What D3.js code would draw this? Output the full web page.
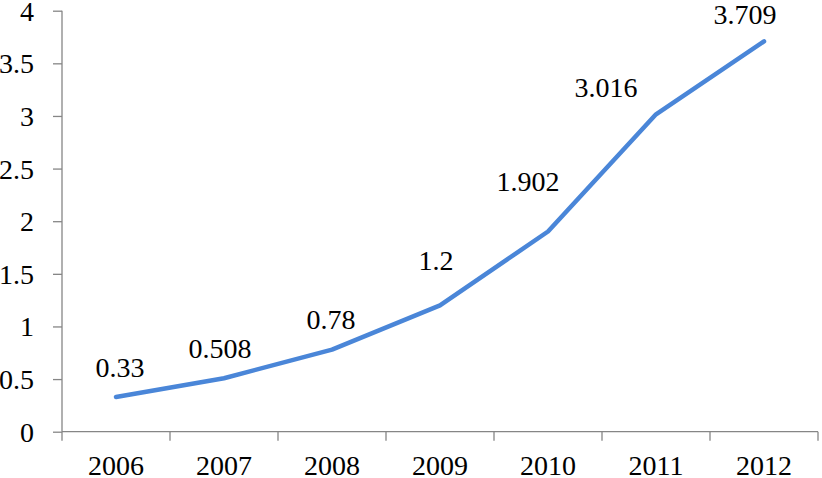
<!DOCTYPE html>
<html><head><meta charset="utf-8">
<script src="https://cdn.jsdelivr.net/npm/d3@7"></script>
<style>body{margin:0;background:#fff}svg{display:block}</style>
</head><body>
<script>
const years = ["2006","2007","2008","2009","2010","2011","2012"];
const values = [0.33, 0.508, 0.78, 1.2, 1.902, 3.016, 3.709];
const labels = ["0.33","0.508","0.78","1.2","1.902","3.016","3.709"];
const yTicks = [0, 0.5, 1, 1.5, 2, 2.5, 3, 3.5, 4];
const yTickLabels = ["0","0.5","1","1.5","2","2.5","3","3.5","4"];
// label offsets (dx, dy) relative to the point
const labelDx = [4, -4, -1, -4, -20, -50, -19];
const labelDy = [-20, -20, -21, -35, -41, -17, -17];

const W = 822, H = 478;
const svg = d3.select("body").append("svg").attr("width", W).attr("height", H);
const font = "'Liberation Serif', serif";
const axisColor = "#868686";

const x = d3.scaleBand().domain(years).range([62, 818]);
const y = d3.scaleLinear().domain([0, 4]).range([431.7, 10.7]);

// y axis
const yAxis = d3.axisLeft(y).tickValues(yTicks).tickSize(9).tickPadding(19)
  .tickFormat((d, i) => yTickLabels[i]);
const gy = svg.append("g").attr("transform", "translate(62,0)").call(yAxis);
gy.select(".domain").attr("stroke", axisColor).attr("stroke-width", 1.3).attr("d", `M0,${y(4)}V${y(0)}`);
gy.selectAll(".tick line").attr("stroke", axisColor).attr("stroke-width", 1.3);
gy.selectAll(".tick text").attr("font-family", font).attr("font-size", 28).attr("fill", "#000")
  .attr("dy", "0.34em");

// x axis with ticks at category boundaries
const gx = svg.append("g").attr("transform", `translate(0,${y(0)})`);
gx.append("line").attr("x1", 62).attr("x2", 818).attr("stroke", axisColor).attr("stroke-width", 1.3);
const bounds = years.map(d => x(d)).concat([x(years[years.length - 1]) + x.bandwidth()]);
gx.selectAll(".xt").data(bounds).enter().append("line")
  .attr("x1", d => d).attr("x2", d => d).attr("y1", 0).attr("y2", 9)
  .attr("stroke", axisColor).attr("stroke-width", 1.3);
gx.selectAll(".xl").data(years).enter().append("text")
  .attr("x", d => x(d) + x.bandwidth() / 2).attr("y", 43.5)
  .attr("text-anchor", "middle").attr("font-family", font).attr("font-size", 28).attr("fill", "#000")
  .text(d => d);

// line
const cx = d => x(d) + x.bandwidth() / 2;
const line = d3.line().x((d, i) => cx(years[i])).y(d => y(d));
svg.append("path").datum(values).attr("d", line)
  .attr("fill", "none").attr("stroke", "#4a86d8").attr("stroke-width", 4.5)
  .attr("stroke-linejoin", "round").attr("stroke-linecap", "round");

// data labels
svg.selectAll(".dl").data(values).enter().append("text")
  .attr("x", (d, i) => cx(years[i]) + labelDx[i])
  .attr("y", (d, i) => y(d) + labelDy[i])
  .attr("text-anchor", "middle").attr("font-family", font).attr("font-size", 28).attr("fill", "#000")
  .text((d, i) => labels[i]);
</script>
</body></html>
